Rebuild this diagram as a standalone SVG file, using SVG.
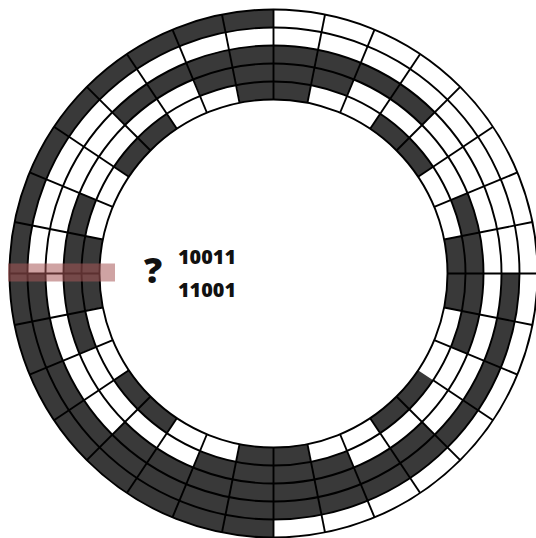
<svg xmlns="http://www.w3.org/2000/svg" xmlns:xlink="http://www.w3.org/1999/xlink" width="536" height="538" viewBox="0 0 536 538">
<style>
.track{fill:none;stroke:#393939;stroke-width:18.2}
.ring{fill:none;stroke:#000;stroke-width:1.9}
.spoke{stroke:#000;stroke-width:1.9}
.lbl{font-family:"Open Sans","DejaVu Sans",sans-serif;font-weight:800;fill:#111}
</style>
<defs>
<line id="sp" class="spoke" x1="273.5" y1="99.5" x2="273.5" y2="9.5"/>
<line id="sp2" class="spoke" x1="273.5" y1="81.5" x2="273.5" y2="9.5"/>
</defs>
<rect width="536" height="538" fill="#fff"/>
<g id="tracks" transform="rotate(-90 273.5 273.5)">
<circle class="track" cx="273.5" cy="273.5" r="255" stroke-dasharray="0 801.106 801.106 0"/>
<circle class="track" cx="273.5" cy="273.5" r="237" stroke-dasharray="0 372.279 744.557 372.279"/>
<circle class="track" cx="273.5" cy="273.5" r="219" stroke-dasharray="172.002 344.004 344.004 344.004 172.002 0"/>
<circle class="track" cx="273.5" cy="273.5" r="201" stroke-dasharray="78.932 157.865 157.865 157.865 157.865 157.865 157.865 157.865 78.932 0"/>
<circle class="track" cx="273.5" cy="273.5" r="183" stroke-dasharray="35.932 71.864 71.864 71.864 71.864 71.864 71.864 71.864 71.864 71.864 71.864 71.864 71.864 71.864 71.864 71.864 35.932 0"/>
</g>
<g id="rings">
<circle class="ring" cx="273.5" cy="273.5" r="174"/>
<circle class="ring" cx="273.5" cy="273.5" r="192"/>
<circle class="ring" cx="273.5" cy="273.5" r="210"/>
<circle class="ring" cx="273.5" cy="273.5" r="228"/>
<circle class="ring" cx="273.5" cy="273.5" r="246"/>
<circle class="ring" cx="273.5" cy="273.5" r="264"/>
</g>
<g id="spokes">
<use xlink:href="#sp"/>
<use xlink:href="#sp" transform="rotate(11.25 273.5 273.5)"/>
<use xlink:href="#sp" transform="rotate(22.5 273.5 273.5)"/>
<use xlink:href="#sp" transform="rotate(33.75 273.5 273.5)"/>
<use xlink:href="#sp" transform="rotate(45 273.5 273.5)"/>
<use xlink:href="#sp" transform="rotate(56.25 273.5 273.5)"/>
<use xlink:href="#sp" transform="rotate(67.5 273.5 273.5)"/>
<use xlink:href="#sp" transform="rotate(78.75 273.5 273.5)"/>
<use xlink:href="#sp" transform="rotate(90 273.5 273.5)"/>
<use xlink:href="#sp" transform="rotate(101.25 273.5 273.5)"/>
<use xlink:href="#sp" transform="rotate(112.5 273.5 273.5)"/>
<use xlink:href="#sp2" transform="rotate(123.75 273.5 273.5)"/>
<use xlink:href="#sp" transform="rotate(135 273.5 273.5)"/>
<use xlink:href="#sp" transform="rotate(146.25 273.5 273.5)"/>
<use xlink:href="#sp" transform="rotate(157.5 273.5 273.5)"/>
<use xlink:href="#sp" transform="rotate(168.75 273.5 273.5)"/>
<use xlink:href="#sp" transform="rotate(180 273.5 273.5)"/>
<use xlink:href="#sp" transform="rotate(191.25 273.5 273.5)"/>
<use xlink:href="#sp" transform="rotate(202.5 273.5 273.5)"/>
<use xlink:href="#sp" transform="rotate(213.75 273.5 273.5)"/>
<use xlink:href="#sp" transform="rotate(225 273.5 273.5)"/>
<use xlink:href="#sp" transform="rotate(236.25 273.5 273.5)"/>
<use xlink:href="#sp" transform="rotate(247.5 273.5 273.5)"/>
<use xlink:href="#sp" transform="rotate(258.75 273.5 273.5)"/>
<use xlink:href="#sp" transform="rotate(270 273.5 273.5)"/>
<use xlink:href="#sp" transform="rotate(281.25 273.5 273.5)"/>
<use xlink:href="#sp" transform="rotate(292.5 273.5 273.5)"/>
<use xlink:href="#sp" transform="rotate(303.75 273.5 273.5)"/>
<use xlink:href="#sp" transform="rotate(315 273.5 273.5)"/>
<use xlink:href="#sp" transform="rotate(326.25 273.5 273.5)"/>
<use xlink:href="#sp" transform="rotate(337.5 273.5 273.5)"/>
<use xlink:href="#sp" transform="rotate(348.75 273.5 273.5)"/>
</g>
<rect id="highlight" x="8" y="263.5" width="107" height="18" fill="#a85858" opacity="0.55"/>
<g id="labels">
<text class="lbl" x="144" y="283" font-size="36">?</text>
<text class="lbl" x="178" y="263.5" font-size="19" textLength="58" lengthAdjust="spacingAndGlyphs">10011</text>
<text class="lbl" x="178" y="297" font-size="19" textLength="58" lengthAdjust="spacingAndGlyphs">11001</text>
</g>
</svg>
